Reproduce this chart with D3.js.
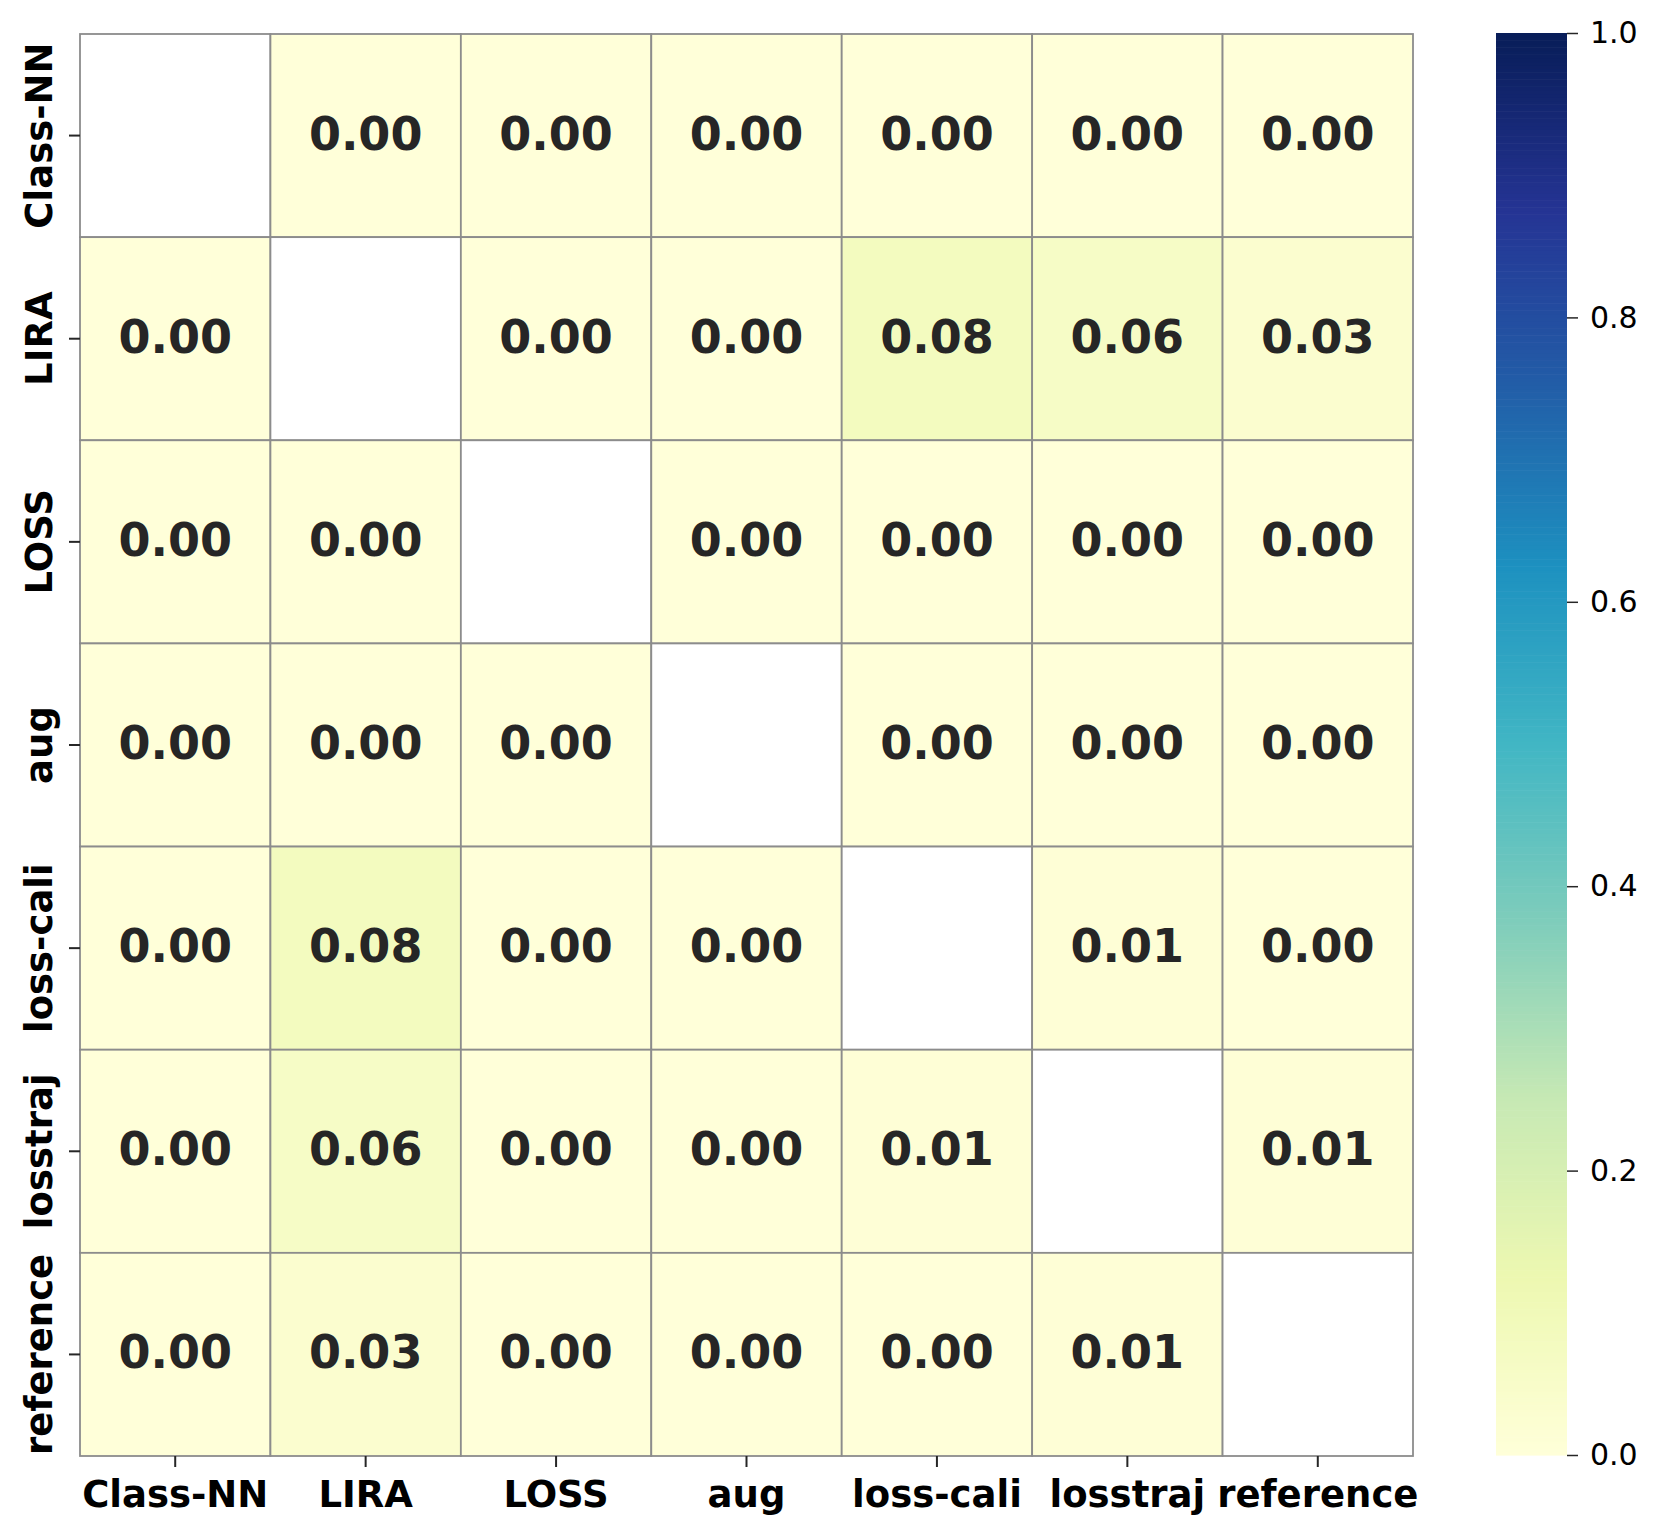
<!DOCTYPE html>
<html>
<head>
<meta charset="utf-8">
<script src="https://cdn.jsdelivr.net/npm/d3@7"></script>
<style>
  body { margin: 0; background: #fff; }
  svg { display: block; font-family: "DejaVu Sans", sans-serif; }
</style>
</head>
<body>
<svg width="1661" height="1536"></svg>
<script>
// Method names (same order for rows and columns)
const methods = ["Class-NN", "LIRA", "LOSS", "aug", "loss-cali", "losstraj", "reference"];

// Cell values, one array per row (null = masked diagonal)
const rowClassNN  = [null, 0.00, 0.00, 0.00, 0.00, 0.00, 0.00];
const rowLIRA     = [0.00, null, 0.00, 0.00, 0.08, 0.06, 0.03];
const rowLOSS     = [0.00, 0.00, null, 0.00, 0.00, 0.00, 0.00];
const rowAug      = [0.00, 0.00, 0.00, null, 0.00, 0.00, 0.00];
const rowLossCali = [0.00, 0.08, 0.00, 0.00, null, 0.01, 0.00];
const rowLosstraj = [0.00, 0.06, 0.00, 0.00, 0.01, null, 0.01];
const rowRef      = [0.00, 0.03, 0.00, 0.00, 0.00, 0.01, null];
const rows = [rowClassNN, rowLIRA, rowLOSS, rowAug, rowLossCali, rowLosstraj, rowRef];

const cbarTicks = [0.0, 0.2, 0.4, 0.6, 0.8, 1.0];

const svg = d3.select("svg");

// heatmap area
const margin = { left: 80, top: 34, right: 1413, bottom: 1456 };

const x = d3.scaleBand().domain(methods).range([margin.left, margin.right]);
const y = d3.scaleBand().domain(methods).range([margin.top, margin.bottom]);

// matplotlib-like YlGnBu (linear between colorbrewer stops)
const ylgnbu = ["#ffffd9", "#edf8b1", "#c7e9b4", "#7fcdbb", "#41b6c4", "#1d91c0", "#225ea8", "#253494", "#081d58"];
const color = d3.scaleLinear()
    .domain(d3.range(ylgnbu.length).map(i => i / (ylgnbu.length - 1)))
    .range(ylgnbu)
    .interpolate(d3.interpolateRgb);

const cells = [];
rows.forEach((r, i) => r.forEach((v, j) => cells.push({ row: methods[i], col: methods[j], v: v })));

const g = svg.append("g");

g.selectAll("rect.cell")
    .data(cells)
    .join("rect")
    .attr("class", "cell")
    .attr("x", d => x(d.col))
    .attr("y", d => y(d.row))
    .attr("width", x.bandwidth())
    .attr("height", y.bandwidth())
    .attr("fill", d => d.v === null ? "#ffffff" : color(d.v))
    .attr("stroke", "#8c8c8c")
    .attr("stroke-width", 1.8);

g.selectAll("text.val")
    .data(cells.filter(d => d.v !== null))
    .join("text")
    .attr("class", "val")
    .attr("x", d => x(d.col) + x.bandwidth() / 2)
    .attr("y", d => y(d.row) + y.bandwidth() / 2 - 2)
    .attr("text-anchor", "middle")
    .attr("dominant-baseline", "central")
    .attr("font-size", 46)
    .attr("font-weight", "bold")
    .attr("fill", "#262626")
    .text(d => d.v.toFixed(2));

// x axis
const xAxis = svg.append("g")
    .attr("transform", `translate(0,${margin.bottom})`)
    .call(d3.axisBottom(x).tickSize(11).tickPadding(14));
xAxis.select(".domain").remove();
xAxis.selectAll(".tick line").attr("stroke", "#262626").attr("stroke-width", 2);
xAxis.selectAll(".tick text")
    .attr("font-size", 37)
    .attr("font-weight", "bold")
    .attr("font-family", "DejaVu Sans")
    .attr("fill", "#000");

// y axis
const yAxis = svg.append("g")
    .attr("transform", `translate(${margin.left},0)`)
    .call(d3.axisLeft(y).tickSize(11).tickPadding(14));
yAxis.select(".domain").remove();
yAxis.selectAll(".tick line").attr("stroke", "#262626").attr("stroke-width", 2);
yAxis.selectAll(".tick text")
    .attr("font-size", 37)
    .attr("font-weight", "bold")
    .attr("font-family", "DejaVu Sans")
    .attr("fill", "#000")
    .attr("text-anchor", "middle")
    .attr("dy", null)
    .attr("x", 0)
    .attr("transform", "translate(-28,0) rotate(-90)");

// colorbar
const cbLeft = 1496, cbWidth = 71;
const cy = d3.scaleLinear().domain([0, 1]).range([margin.bottom - 1, margin.top - 1]);
const steps = d3.range(0, 1, 1 / 400);
svg.append("g").selectAll("rect")
    .data(steps)
    .join("rect")
    .attr("x", cbLeft)
    .attr("y", d => cy(d + 1 / 400))
    .attr("width", cbWidth)
    .attr("height", d => cy(d) - cy(d + 1 / 400) + 0.6)
    .attr("fill", d => color(d + 0.5 / 400));

const cAxis = svg.append("g")
    .attr("transform", `translate(${cbLeft + cbWidth},0)`)
    .call(d3.axisRight(cy).tickValues(cbarTicks).tickFormat(d3.format(".1f")).tickSize(11).tickPadding(12));
cAxis.select(".domain").remove();
cAxis.selectAll(".tick line").attr("stroke", "#262626").attr("stroke-width", 1.5);
cAxis.selectAll(".tick text")
    .attr("font-size", 30)
    .attr("font-family", "DejaVu Sans")
    .attr("fill", "#000");
</script>
</body>
</html>
